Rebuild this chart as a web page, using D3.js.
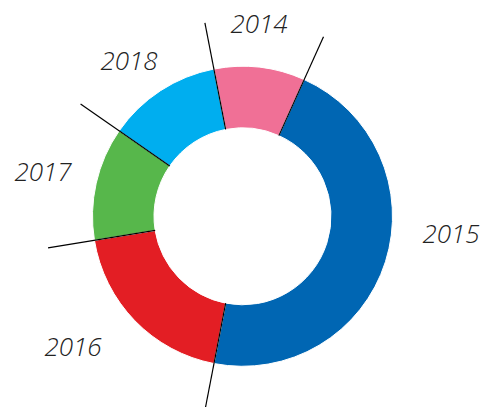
<!DOCTYPE html>
<html>
<head>
<meta charset="utf-8">
<script src="https://cdn.jsdelivr.net/npm/d3@7"></script>
<style>
  body { margin: 0; background: #fff; }
  svg text { font-family: "Open Sans", "Noto Sans", sans-serif; font-style: italic; font-weight: 300; }
</style>
</head>
<body>
<svg id="chart" width="489" height="407"></svg>
<script>
// data (shares, in percent)
var years = ["2014", "2015", "2016", "2017", "2018"];
var shares = [9.8, 46.3, 19.4, 12.2, 12.3];
var colors = ["#f07096", "#0066b3", "#e31e24", "#57b74b", "#00aeef"];

var width = 489, height = 407;
var cx = 242.5, cy = 216.3;
var outerR = 150, innerR = 88.5, lineR = 197;
var start = -11 * Math.PI / 180;

var svg = d3.select("svg#chart");
var g = svg.append("g").attr("transform", "translate(" + cx + "," + cy + ")");

var data = years.map(function(y, i) { return {year: y, value: shares[i], color: colors[i]}; });

var pie = d3.pie().sort(null).value(function(d) { return d.value; })
    .startAngle(start).endAngle(start + 2 * Math.PI);
var arc = d3.arc().innerRadius(innerR).outerRadius(outerR);
var arcs = pie(data);

g.selectAll("path.slice").data(arcs).enter().append("path")
    .attr("class", "slice")
    .attr("d", arc)
    .attr("fill", function(d) { return d.data.color; })
    .attr("stroke", "#fff").attr("stroke-width", 1);

// leader lines along each slice boundary
g.selectAll("line.lead").data(arcs).enter().append("line")
    .attr("class", "lead")
    .attr("x1", function(d) { return innerR * Math.sin(d.startAngle); })
    .attr("y1", function(d) { return -innerR * Math.cos(d.startAngle); })
    .attr("x2", function(d) { return lineR * Math.sin(d.startAngle); })
    .attr("y2", function(d) { return -lineR * Math.cos(d.startAngle); })
    .attr("stroke", "#000").attr("stroke-width", 1.2);

// labels, placed by hand around the ring
var labelPos = {"2014": [259, 33], "2015": [451, 243], "2016": [73, 356], "2017": [43, 181], "2018": [129, 70]};
svg.selectAll("text.lab").data(data).enter().append("text")
    .attr("class", "lab")
    .attr("x", function(d) { return labelPos[d.year][0]; })
    .attr("y", function(d) { return labelPos[d.year][1]; })
    .attr("text-anchor", "middle")
    .attr("font-size", 26)
    .attr("fill", "#222")
    .text(function(d) { return d.year; });
</script>
</body>
</html>
